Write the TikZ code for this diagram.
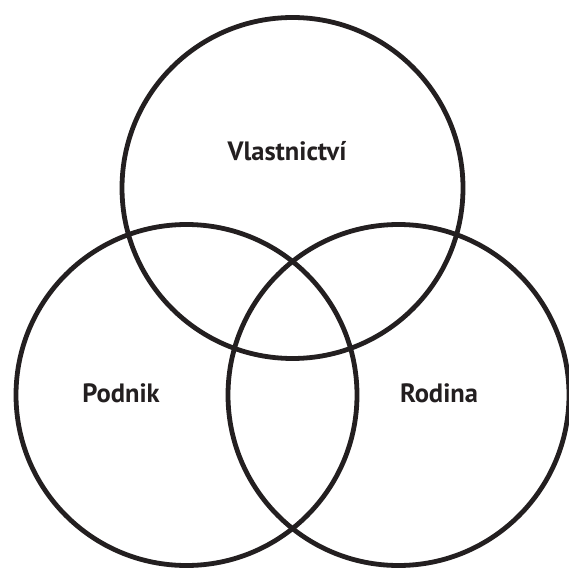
\documentclass[tikz,border=0pt]{standalone}
\usepackage{fontspec}
\setmainfont{PT Sans}
\definecolor{ink}{HTML}{231F20}
\begin{document}
\begin{tikzpicture}[x=1pt,y=1pt,
  setc/.style={circle,draw=ink,line width=4.8pt,inner sep=0pt,minimum size=341pt},
  lbl/.style={text=ink,font=\bfseries\fontsize{26.5}{30}\selectfont}]
\useasboundingbox (0,0) rectangle (569,568);
\node[setc] (own) at (292.5,380) {};
\node[setc] (biz) at (186.5,173) {};
\node[setc] (fam) at (398.5,173) {};
\node[lbl] (townl) at (287,417) {Vlastnictví};
\node[lbl] (tbiz) at (121,175) {Podnik};
\node[lbl] (tfam) at (439,175) {Rodina};
\end{tikzpicture}
\end{document}
